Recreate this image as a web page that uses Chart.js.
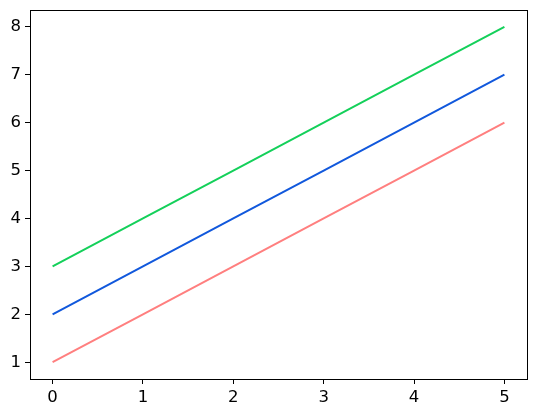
<!DOCTYPE html>
<html>
<head>
<meta charset="utf-8">
<script src="https://cdn.jsdelivr.net/npm/chart.js@4/dist/chart.umd.min.js"></script>
<style>
  html, body { margin: 0; padding: 0; background: #fff; }
  #wrap { width: 536px; height: 417px; position: relative; }
</style>
</head>
<body>
<div id="wrap"><canvas id="chart"></canvas></div>
<script>
// values
const xValues = [0, 1, 2, 3, 4, 5];
const redLine = [1, 2, 3, 4, 5, 6];
const blueLine = [2, 3, 4, 5, 6, 7];
const greenLine = [3, 4, 5, 6, 7, 8];
const xTicks = [0, 1, 2, 3, 4, 5];
const yTicks = [1, 2, 3, 4, 5, 6, 7, 8];

const toPoints = (ys) => ys.map((y, i) => ({ x: xValues[i], y }));

// matplotlib-like frame round the plot area
const frame = {
  id: 'frame',
  afterDraw(chart) {
    const { ctx, chartArea: a } = chart;
    ctx.save();
    ctx.strokeStyle = '#000';
    ctx.lineWidth = 1;
    ctx.strokeRect(Math.round(a.left) + 0.5, Math.round(a.top) + 0.5,
      Math.round(a.right - a.left), Math.round(a.bottom - a.top));
    ctx.restore();
  }
};

const line = (data, color) => ({
  data: toPoints(data),
  borderColor: color,
  borderWidth: 2,
  pointRadius: 0,
  fill: false,
  tension: 0
});

new Chart(document.getElementById('chart'), {
  type: 'line',
  data: {
    datasets: [
      line(redLine, '#ff7f7f'),
      line(blueLine, '#1158dc'),
      line(greenLine, '#14d05a')
    ]
  },
  options: {
    responsive: true,
    maintainAspectRatio: false,
    animation: false,
    layout: { padding: { top: 10, right: 9, left: 0, bottom: 0 } },
    plugins: {
      legend: { display: false },
      tooltip: { enabled: false }
    },
    scales: {
      x: {
        type: 'linear',
        min: -0.25,
        max: 5.25,
        afterBuildTicks: (s) => { s.ticks = xTicks.map(v => ({ value: v })); },
        afterFit: (s) => { s.height = 38; s.paddingLeft = 0; s.paddingRight = 0; },
        grid: { drawOnChartArea: false, tickLength: 5, color: '#000' },
        border: { display: true, color: '#000' },
        ticks: {
          color: '#000',
          padding: 4,
          maxRotation: 0,
          font: { family: 'DejaVu Sans', size: 16.5 }
        }
      },
      y: {
        type: 'linear',
        min: 0.65,
        max: 8.35,
        afterBuildTicks: (s) => { s.ticks = yTicks.map(v => ({ value: v })); },
        afterFit: (s) => { s.width = 30; s.paddingTop = 0; s.paddingBottom = 0; },
        grid: { drawOnChartArea: false, tickLength: 5, color: '#000' },
        border: { display: true, color: '#000' },
        ticks: {
          color: '#000',
          padding: 4,
          font: { family: 'DejaVu Sans', size: 16.5 }
        }
      }
    }
  },
  plugins: [frame]
});
</script>
</body>
</html>
